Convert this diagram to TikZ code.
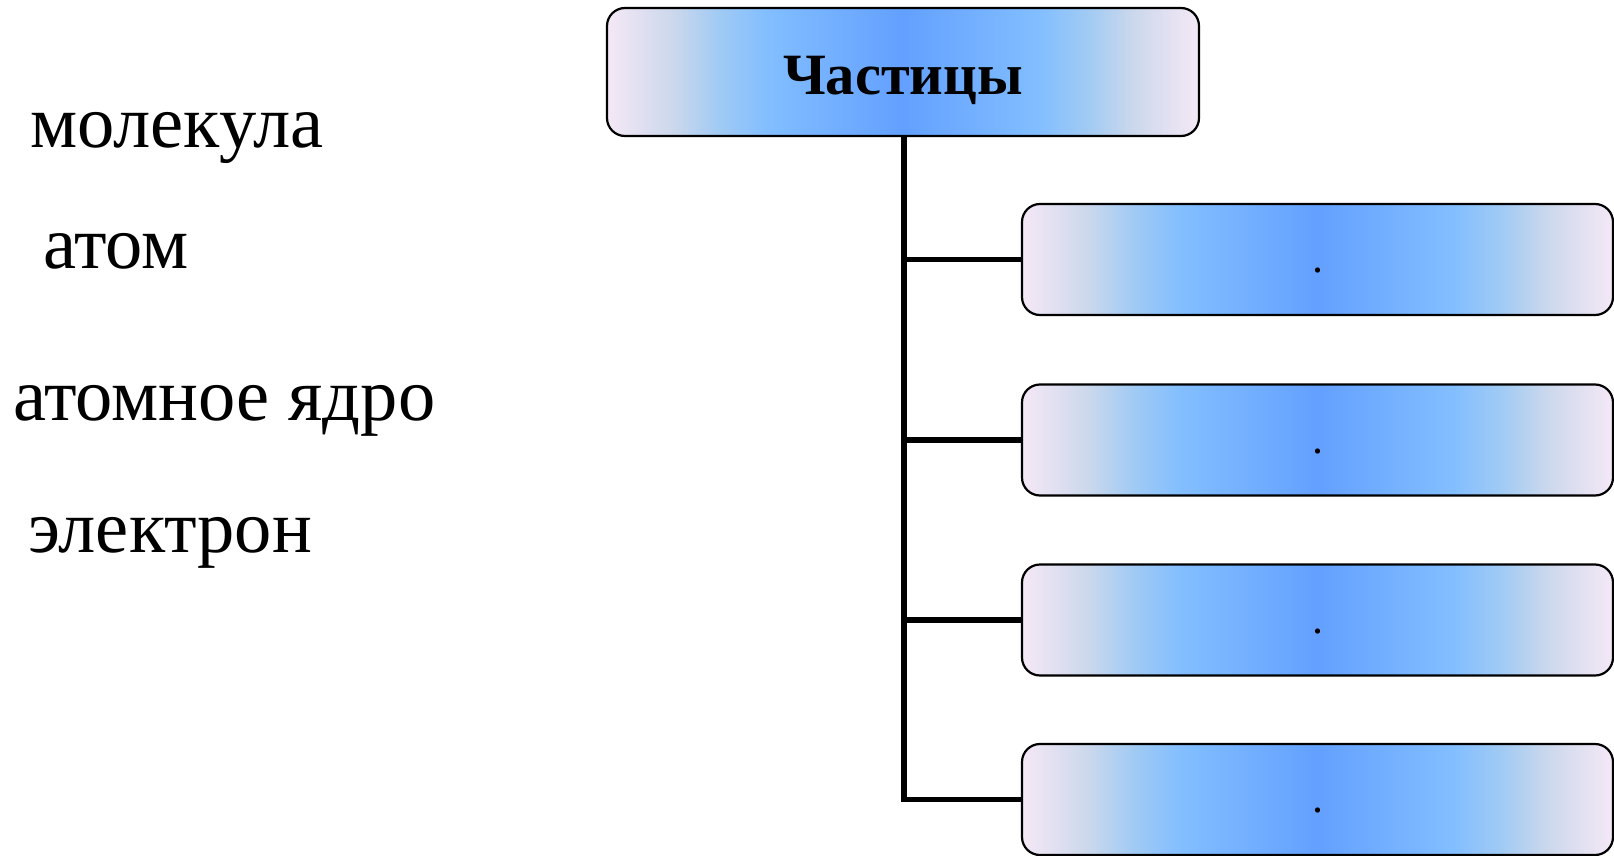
\documentclass[tikz,border=0pt]{standalone}
\usepackage{fontspec}
\setmainfont{Liberation Serif}
\definecolor{edgecol}{HTML}{F5E8F6}
\definecolor{c1}{HTML}{CCD8EC}
\definecolor{c2}{HTML}{A0CAF4}
\definecolor{c3}{HTML}{82BEFF}
\definecolor{c4}{HTML}{63A0FF}
\pgfdeclarehorizontalshading{boxshade}{100bp}{color(0bp)=(edgecol); color(25bp)=(edgecol); color(30.5bp)=(c1); color(34.5bp)=(c2); color(38.5bp)=(c3); color(50bp)=(c4); color(61.5bp)=(c3); color(65.5bp)=(c2); color(69.5bp)=(c1); color(75bp)=(edgecol); color(100bp)=(edgecol)}
\tikzset{
  box/.style={draw=black, line width=2.2pt, rounded corners=18pt, shading=boxshade, inner sep=0pt},
  conn/.style={draw=black, line width=5.5pt},
  word/.style={anchor=base west, inner sep=0pt, font=\fontsize{74.5}{76}\selectfont},
}
\begin{document}
\begin{tikzpicture}[x=1pt,y=-1pt]
\useasboundingbox (0,0) rectangle (1614,856);
\node[box, minimum width=592pt, minimum height=128pt, text height=45pt, text depth=0pt,
      font=\bfseries\fontsize{58.5}{60}\selectfont] (top) at (903,72) {Частицы};
\foreach \i/\y in {1/259.5, 2/440, 3/620, 4/799.5}{
  \node[box, minimum width=591pt, minimum height=111pt, text height=26pt, text depth=0pt,
        font=\fontsize{44}{46}\selectfont] (b\i) at (1317.5,\y) {.};
}
\draw[conn] (top.south -| 904,0) -- (904,799.5) -- (b4.west);
\foreach \i in {1,2,3}{
  \draw[conn] (904,0 |- b\i.west) -- (b\i.west);
}
\node[word] (w1) at (30,148) {молекула};
\node[word] (w2) at (43,268) {атом};
\node[word] (w3) at (13,420) {атомное ядро};
\node[word] (w4) at (28,552) {электрон};
\end{tikzpicture}
\end{document}
